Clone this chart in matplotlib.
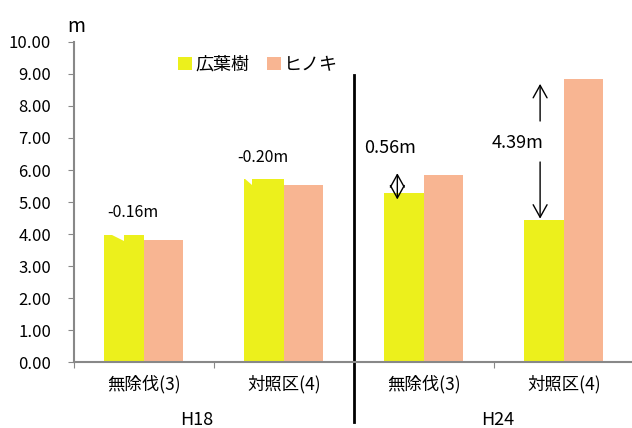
import numpy as np
import matplotlib.pyplot as plt

plt.rcParams['font.family'] = ['Noto Sans CJK JP', 'DejaVu Sans']

# 樹高データ (m)
categories = ['無除伐(3)', '対照区(4)', '無除伐(3)', '対照区(4)']
periods = ['H18', 'H24']
kouyouju = [3.97, 5.73, 5.28, 4.44]   # 広葉樹
hinoki = [3.81, 5.53, 5.84, 8.83]     # ヒノキ
diff_labels = ['-0.16m', '-0.20m', '0.56m', '4.39m']

c_kou = '#ECF01C'
c_hin = '#F8B592'
axis_gray = '#888888'

fig = plt.figure(figsize=(6.32, 4.28), dpi=100)
ax = fig.add_axes([0.117, 0.154, 0.886, 0.748])

x = np.arange(len(categories))
w = 0.282
ax.bar(x - w / 2, kouyouju, w, color=c_kou, label='広葉樹')
ax.bar(x + w / 2, hinoki, w, color=c_hin, label='ヒノキ')

# H18の広葉樹バー上端の欠け
for i, (a, b, d) in zip([0, 1], [(0.2, 0.5, 0.19), (0.0, 0.2, 0.2)]):
    left = x[i] - w
    top = kouyouju[i]
    ax.fill([left + a * w, left + b * w, left + b * w],
            [top + 0.01, top + 0.01, top - d], color='white', lw=0, zorder=3)

ax.set_xlim(-0.5, 3.5)
ax.set_ylim(0, 10)
ax.set_yticks(np.arange(0, 11, 1))
ax.set_yticklabels([f'{v:.2f}' for v in range(11)], fontsize=12)
ax.set_xticks([-0.5, 0.5, 1.5, 2.5, 3.5])
ax.set_xticklabels([])
ax.set_xticks(x, minor=True)
ax.set_xticklabels(categories, minor=True, fontsize=12.5)
ax.tick_params(axis='x', which='major', length=4, color=axis_gray)
ax.tick_params(axis='x', which='minor', length=0, pad=9)
ax.tick_params(axis='y', length=4.5, color=axis_gray, pad=12)

for side in ['top', 'right']:
    ax.spines[side].set_visible(False)
for side in ['left', 'bottom']:
    ax.spines[side].set_color(axis_gray)
    ax.spines[side].set_linewidth(1.5)

# 単位
ax.text(-0.486, 10.47, 'm', fontsize=14, ha='center', va='center')

# 年度ラベル
ax.text(0.38, -1.8, periods[0], fontsize=13, ha='center', va='center')
ax.text(2.53, -1.8, periods[1], fontsize=13, ha='center', va='center')

# 年度の区切り線
ax.plot([1.5, 1.5], [8.97, -1.88], color='black', lw=2, clip_on=False)

# 差の注記
ax.text(-0.08, 4.66, diff_labels[0], fontsize=11.5, ha='center', va='center')
ax.text(0.85, 6.4, diff_labels[1], fontsize=11.5, ha='center', va='center')
ax.text(1.76, 6.69, diff_labels[2], fontsize=13, ha='center', va='center')
ax.text(2.67, 6.84, diff_labels[3], fontsize=13, ha='center', va='center')

arrow = dict(arrowstyle='<->, head_length=0.45, head_width=0.25', lw=1,
             color='black', mutation_scale=20, shrinkA=0, shrinkB=0)
ax.annotate('', xy=(1.81, 5.9), xytext=(1.81, 5.08), arrowprops=arrow)
one = dict(arrowstyle='->, head_length=0.45, head_width=0.25', lw=1,
           color='black', mutation_scale=20, shrinkA=0, shrinkB=0)
ax.annotate('', xy=(2.83, 8.69), xytext=(2.83, 7.53), arrowprops=one)
ax.annotate('', xy=(2.83, 4.48), xytext=(2.83, 6.25), arrowprops=one)

ax.legend(loc='center', bbox_to_anchor=(0.329, 0.928), ncol=2, frameon=False,
          fontsize=13, handlelength=0.75, handleheight=0.75, handletextpad=0.2,
          columnspacing=1.0)

fig.savefig('out.png', dpi=100)
